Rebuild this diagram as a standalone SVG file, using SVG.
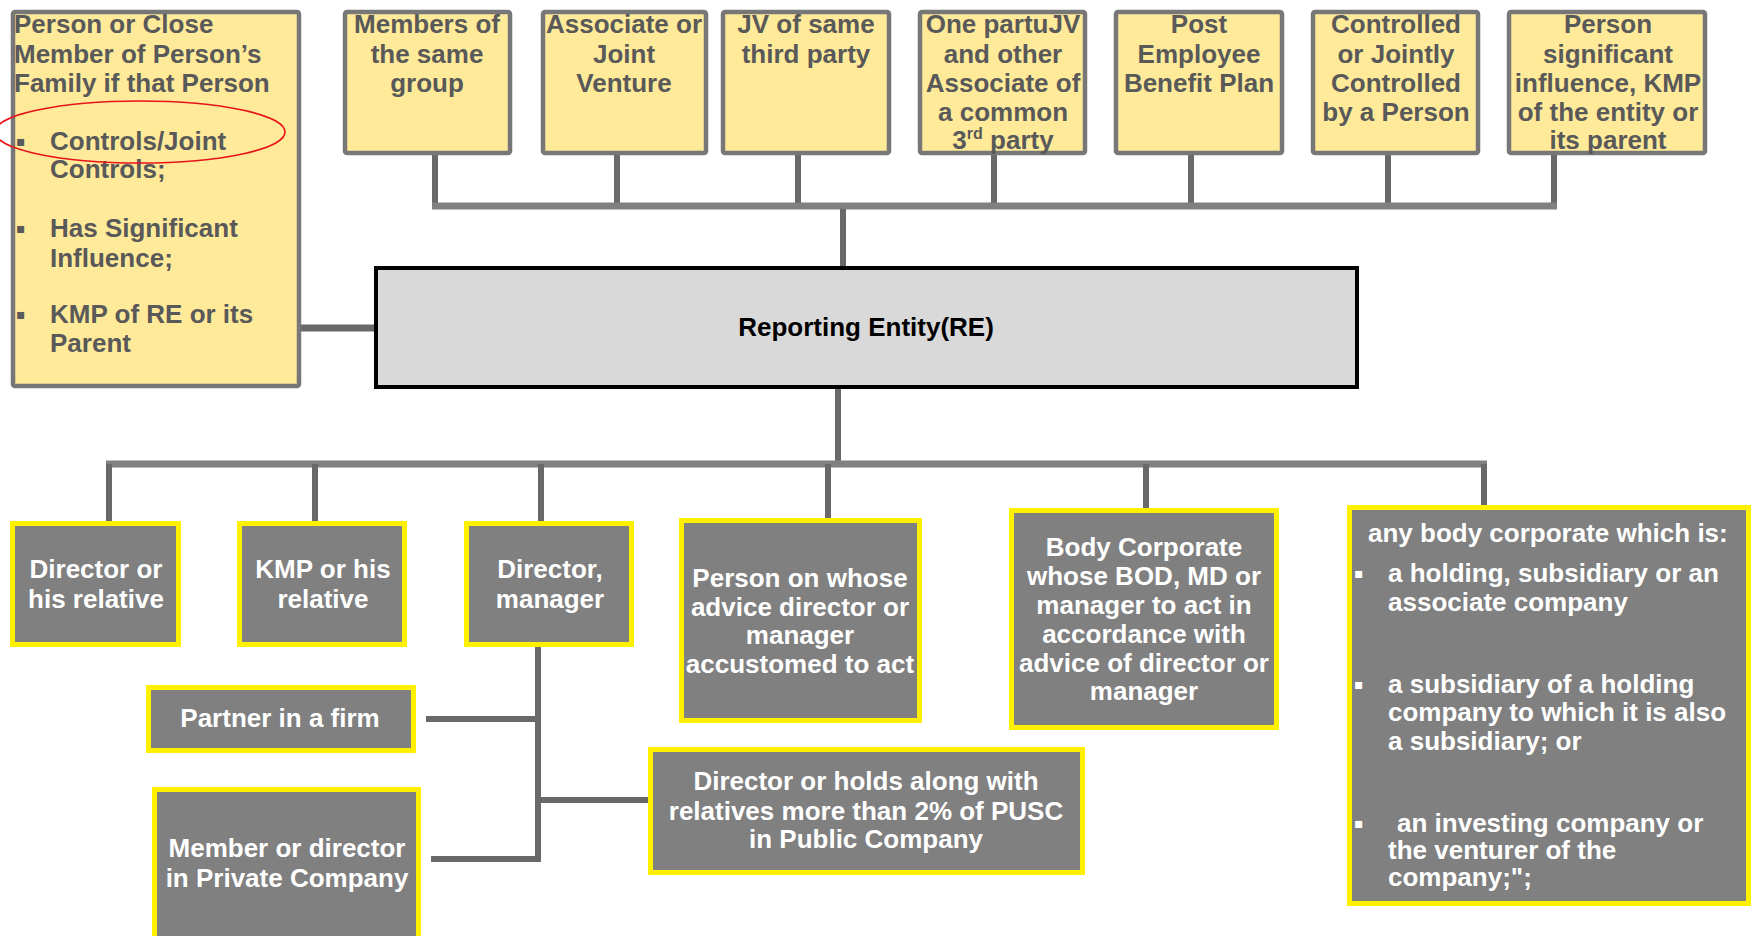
<svg xmlns="http://www.w3.org/2000/svg" width="1760" height="936" viewBox="0 0 1760 936">
<style>
.ty{fill:#ffea99;stroke:#777;stroke-width:4.5}
.tg{fill:#808080;stroke:#fff000;stroke-width:5}
.re{fill:#d9d9d9;stroke:#000;stroke-width:4}
.t{font-family:"Liberation Sans",Arial,sans-serif;font-weight:bold;font-size:26px}
.dk{fill:#595959}
.wh{fill:#fff}
.c{text-anchor:middle}
.b{font-family:"DejaVu Sans",sans-serif;font-size:14px}
.ln{stroke:#696969;stroke-width:6;fill:none}
.bar{stroke:#808080;stroke-width:7;fill:none}
</style>
<rect width="1760" height="936" fill="#fff"/>
<g id="connectors">
  <line class="ln" x1="435" y1="155" x2="435" y2="206"/>
  <line class="ln" x1="617" y1="155" x2="617" y2="206"/>
  <line class="ln" x1="798" y1="155" x2="798" y2="206"/>
  <line class="ln" x1="994" y1="155" x2="994" y2="206"/>
  <line class="ln" x1="1191" y1="155" x2="1191" y2="206"/>
  <line class="ln" x1="1388" y1="155" x2="1388" y2="206"/>
  <line class="ln" x1="1554" y1="155" x2="1554" y2="206"/>
  <line class="bar" x1="432" y1="206" x2="1557" y2="206"/>
  <line class="ln" x1="843" y1="209" x2="843" y2="267"/>
  <line class="ln" x1="301" y1="328" x2="375" y2="328" style="stroke-width:7"/>
  <line class="ln" x1="838" y1="388" x2="838" y2="462"/>
  <line class="bar" x1="106" y1="464" x2="1487" y2="464"/>
  <line class="ln" x1="109" y1="464" x2="109" y2="521"/>
  <line class="ln" x1="315" y1="464" x2="315" y2="521"/>
  <line class="ln" x1="541" y1="464" x2="541" y2="521"/>
  <line class="ln" x1="828" y1="464" x2="828" y2="518"/>
  <line class="ln" x1="1146" y1="464" x2="1146" y2="508"/>
  <line class="ln" x1="1484" y1="464" x2="1484" y2="505"/>
  <line class="ln" x1="538" y1="647" x2="538" y2="862"/>
  <line class="ln" x1="426" y1="719" x2="538" y2="719"/>
  <line class="ln" x1="538" y1="800" x2="649" y2="800"/>
  <line class="ln" x1="431" y1="859" x2="538" y2="859"/>
</g>
<g id="n-person">
  <rect class="ty" x="13" y="12" width="286" height="374" rx="2"/>
  <text class="t dk" x="14" y="33">Person  or Close</text>
  <text class="t dk" x="14" y="63">Member of  Person’s</text>
  <text class="t dk" x="14" y="92">Family if that Person</text>
  <text class="b dk" x="16" y="146">▪</text>
  <text class="t dk" x="50" y="150">Controls/Joint</text>
  <text class="t dk" x="50" y="178">Controls;</text>
  <text class="b dk" x="16" y="233">▪</text>
  <text class="t dk" x="50" y="237">Has Significant</text>
  <text class="t dk" x="50" y="267">Influence;</text>
  <text class="b dk" x="16" y="319">▪</text>
  <text class="t dk" x="50" y="323">KMP of RE or its</text>
  <text class="t dk" x="50" y="352">Parent</text>
  <ellipse cx="140" cy="132" rx="145" ry="31" fill="none" stroke="#e8141b" stroke-width="1.6"/>
</g>
<g id="n-members">
  <rect class="ty" x="345" y="12" width="165" height="141" rx="2"/>
  <text class="t dk c" x="427" y="33">Members of</text>
  <text class="t dk c" x="427" y="63">the same</text>
  <text class="t dk c" x="427" y="92">group</text>
</g>
<g id="n-associate">
  <rect class="ty" x="543" y="12" width="163" height="141" rx="2"/>
  <text class="t dk c" x="624" y="33">Associate  or</text>
  <text class="t dk c" x="624" y="63">Joint</text>
  <text class="t dk c" x="624" y="92">Venture</text>
</g>
<g id="n-jv">
  <rect class="ty" x="723" y="12" width="166" height="141" rx="2"/>
  <text class="t dk c" x="806" y="33">JV of same</text>
  <text class="t dk c" x="806" y="63">third party</text>
</g>
<g id="n-onepart">
  <rect class="ty" x="920" y="12" width="165" height="141" rx="2"/>
  <text class="t dk c" x="1003" y="33">One partuJV</text>
  <text class="t dk c" x="1003" y="63">and other</text>
  <text class="t dk c" x="1003" y="92">Associate  of</text>
  <text class="t dk c" x="1003" y="121">a common</text>
  <text class="t dk c" x="1003" y="149">3<tspan font-size="16" dy="-10">rd</tspan><tspan dy="10"> party</tspan></text>
</g>
<g id="n-post">
  <rect class="ty" x="1116" y="12" width="166" height="141" rx="2"/>
  <text class="t dk c" x="1199" y="33">Post</text>
  <text class="t dk c" x="1199" y="63">Employee</text>
  <text class="t dk c" x="1199" y="92">Benefit Plan</text>
</g>
<g id="n-controlled">
  <rect class="ty" x="1313" y="12" width="165" height="141" rx="2"/>
  <text class="t dk c" x="1396" y="33">Controlled</text>
  <text class="t dk c" x="1396" y="63">or Jointly</text>
  <text class="t dk c" x="1396" y="92">Controlled</text>
  <text class="t dk c" x="1396" y="121">by a Person</text>
</g>
<g id="n-personsig">
  <rect class="ty" x="1509" y="12" width="196" height="141" rx="2"/>
  <text class="t dk c" x="1608" y="33">Person</text>
  <text class="t dk c" x="1608" y="63">significant</text>
  <text class="t dk c" x="1608" y="92">influence, KMP</text>
  <text class="t dk c" x="1608" y="121">of the entity or</text>
  <text class="t dk c" x="1608" y="149">its parent</text>
</g>
<g id="n-re">
  <rect class="re" x="376" y="268" width="981" height="119"/>
  <text class="t c" x="866" y="336" fill="#000" font-size="25">Reporting Entity(RE)</text>
</g>
<g id="n-dirrel">
  <rect class="tg" x="12.5" y="523.5" width="166" height="121"/>
  <text class="t wh c" x="96" y="578">Director or</text>
  <text class="t wh c" x="96" y="608">his relative</text>
</g>
<g id="n-kmp">
  <rect class="tg" x="239.5" y="523.5" width="165" height="121"/>
  <text class="t wh c" x="323" y="578">KMP or his</text>
  <text class="t wh c" x="323" y="608">relative</text>
</g>
<g id="n-dirmgr">
  <rect class="tg" x="466.5" y="523.5" width="165" height="121"/>
  <text class="t wh c" x="550" y="578">Director,</text>
  <text class="t wh c" x="550" y="608">manager</text>
</g>
<g id="n-partner">
  <rect class="tg" x="148.5" y="687.5" width="265" height="63"/>
  <text class="t wh c" x="280" y="727">Partner in a firm</text>
</g>
<g id="n-member">
  <rect class="tg" x="154.5" y="789.5" width="264" height="170"/>
  <text class="t wh c" x="287" y="857">Member or director</text>
  <text class="t wh c" x="287" y="887">in Private Company</text>
</g>
<g id="n-advice">
  <rect class="tg" x="681.5" y="520.5" width="238" height="200"/>
  <text class="t wh c" x="800" y="587">Person on whose</text>
  <text class="t wh c" x="800" y="616">advice director or</text>
  <text class="t wh c" x="800" y="644">manager</text>
  <text class="t wh c" x="800" y="673">accustomed to act</text>
</g>
<g id="n-bodycorp">
  <rect class="tg" x="1011.5" y="510.5" width="265" height="217"/>
  <text class="t wh c" x="1144" y="556">Body Corporate</text>
  <text class="t wh c" x="1144" y="585">whose BOD, MD or</text>
  <text class="t wh c" x="1144" y="614">manager to act in</text>
  <text class="t wh c" x="1144" y="643">accordance with</text>
  <text class="t wh c" x="1144" y="672">advice of director or</text>
  <text class="t wh c" x="1144" y="700">manager</text>
</g>
<g id="n-dirholds">
  <rect class="tg" x="650.5" y="749.5" width="432" height="123"/>
  <text class="t wh c" x="866" y="790">Director or holds along with</text>
  <text class="t wh c" x="866" y="820">relatives more than 2% of PUSC</text>
  <text class="t wh c" x="866" y="848">in Public Company</text>
</g>
<g id="n-anybody">
  <rect class="tg" x="1349.5" y="507.5" width="399" height="396"/>
  <text class="t wh" x="1368" y="542">any body corporate which is:</text>
  <text class="b wh" x="1354" y="578">▪</text>
  <text class="t wh" x="1388" y="582">a holding, subsidiary or an</text>
  <text class="t wh" x="1388" y="611">associate company</text>
  <text class="b wh" x="1354" y="689">▪</text>
  <text class="t wh" x="1388" y="693">a subsidiary of a holding</text>
  <text class="t wh" x="1388" y="721">company to which it is also</text>
  <text class="t wh" x="1388" y="750">a subsidiary; or</text>
  <text class="b wh" x="1354" y="828">▪</text>
  <text class="t wh" x="1397" y="832">an investing company or</text>
  <text class="t wh" x="1388" y="859">the venturer of the</text>
  <text class="t wh" x="1388" y="886">company;";</text>
</g>
</svg>
